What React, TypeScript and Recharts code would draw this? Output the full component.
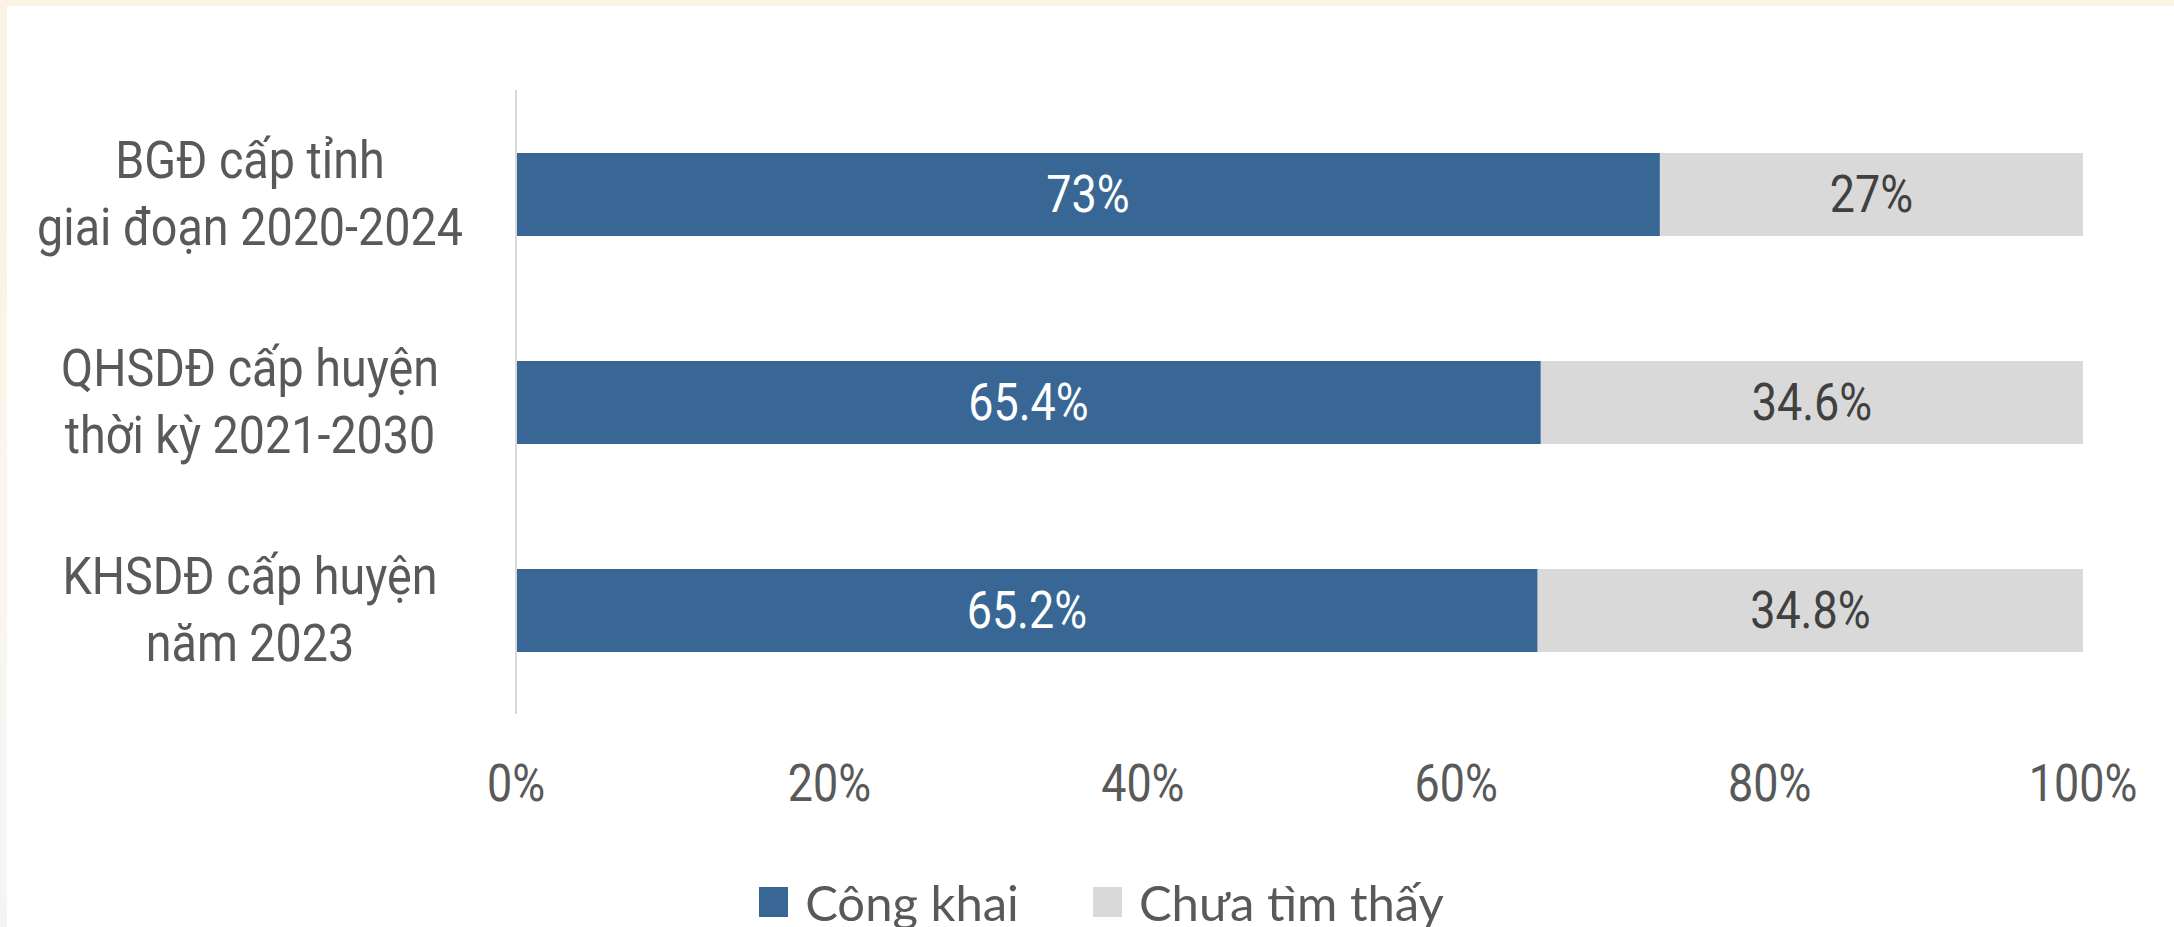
import { Bar, BarChart, LabelList, Legend, XAxis, YAxis } from "recharts";

const categories = [
  "BGĐ cấp tỉnh\ngiai đoạn 2020-2024",
  "QHSDĐ cấp huyện\nthời kỳ 2021-2030",
  "KHSDĐ cấp huyện\nnăm 2023",
];
const congKhai = [73, 65.4, 65.2];
const chuaTimThay = [27, 34.6, 34.8];
const xTicks = [0, 20, 40, 60, 80, 100];

const chartData = categories.map((name, i) => ({
  name,
  congKhai: congKhai[i],
  chuaTimThay: chuaTimThay[i],
}));

const BLUE = "#386795";
const GRAY = "#d9d9d9";
const FONT = "Roboto, 'Noto Sans', sans-serif";
const SQUEEZE = 0.88;

const CategoryTick = ({ x, y, payload }: any) => {
  const lines = String(payload.value).split("\n");
  const cx = x - 258;
  return (
    <g>
      {lines.map((line, i) => (
        <text
          key={i}
          transform={`translate(${cx},${y + (i - (lines.length - 1) / 2) * 67}) scale(0.915,1)`}
          textAnchor="middle"
          dominantBaseline="central"
          fontFamily={FONT}
          fontSize={51}
          fill="#595959"
        >
          {line}
        </text>
      ))}
    </g>
  );
};

const PercentTick = ({ x, y, payload }: any) => (
  <text
    transform={`translate(${x},${y + 61}) scale(${SQUEEZE},1)`}
    textAnchor="middle"
    dominantBaseline="central"
    fontFamily={FONT}
    fontSize={51}
    fill="#595959"
  >
    {`${payload.value}%`}
  </text>
);

const barLabel = (color: string) => (props: any) => {
  const { x, y, width, height, value } = props;
  return (
    <text
      transform={`translate(${x + width / 2},${y + height / 2}) scale(${SQUEEZE},1)`}
      textAnchor="middle"
      dominantBaseline="central"
      fontFamily={FONT}
      fontSize={51}
      fill={color}
    >
      {`${value}%`}
    </text>
  );
};

const legendItems = [
  { label: "Công khai", color: BLUE },
  { label: "Chưa tìm thấy", color: GRAY },
];

const ChartLegend = () => (
  <div
    style={{
      display: "flex",
      justifyContent: "center",
      alignItems: "center",
      height: 50,
      paddingLeft: 120,
      fontFamily: "Lato, 'Open Sans', sans-serif",
      fontSize: 49,
      color: "#595959",
    }}
  >
    {legendItems.map((item, i) => (
      <div
        key={item.label}
        style={{ display: "flex", alignItems: "center", marginLeft: i > 0 ? 74 : 0 }}
      >
        <span
          style={{
            display: "inline-block",
            width: 29,
            height: 30,
            background: item.color,
            marginRight: 17,
          }}
        />
        <span>{item.label}</span>
      </div>
    ))}
  </div>
);

export default function App() {
  return (
    <div
      style={{
        position: "absolute",
        left: 0,
        top: 0,
        width: 2174,
        height: 927,
        background: "linear-gradient(180deg, #fbf2e4 0%, #fbf5ec 60%, #f2f5f8 100%)",
      }}
    >
      <div
        style={{
          position: "absolute",
          left: 7,
          top: 6,
          right: 0,
          bottom: 0,
          background: "#ffffff",
        }}
      />
      <div style={{ position: "absolute", left: 0, top: 0 }}>
        <BarChart
          width={2174}
          height={927}
          data={chartData}
          layout="vertical"
          margin={{ top: 90, right: 91, bottom: 0, left: 0 }}
        >
          <XAxis
            type="number"
            domain={[0, 100]}
            ticks={xTicks}
            axisLine={false}
            tickLine={false}
            height={163}
            tick={<PercentTick />}
            interval={0}
          />
          <YAxis
            type="category"
            dataKey="name"
            width={516}
            axisLine={{ stroke: GRAY, strokeWidth: 2 }}
            tickLine={false}
            tick={<CategoryTick />}
            interval={0}
          />
          <Legend verticalAlign="bottom" content={<ChartLegend />} />
          <Bar dataKey="congKhai" name="Công khai" stackId="a" fill={BLUE} barSize={83} isAnimationActive={false}>
            <LabelList dataKey="congKhai" content={barLabel("#ffffff")} />
          </Bar>
          <Bar dataKey="chuaTimThay" name="Chưa tìm thấy" stackId="a" fill={GRAY} barSize={83} isAnimationActive={false}>
            <LabelList dataKey="chuaTimThay" content={barLabel("#404040")} />
          </Bar>
        </BarChart>
      </div>
    </div>
  );
}
